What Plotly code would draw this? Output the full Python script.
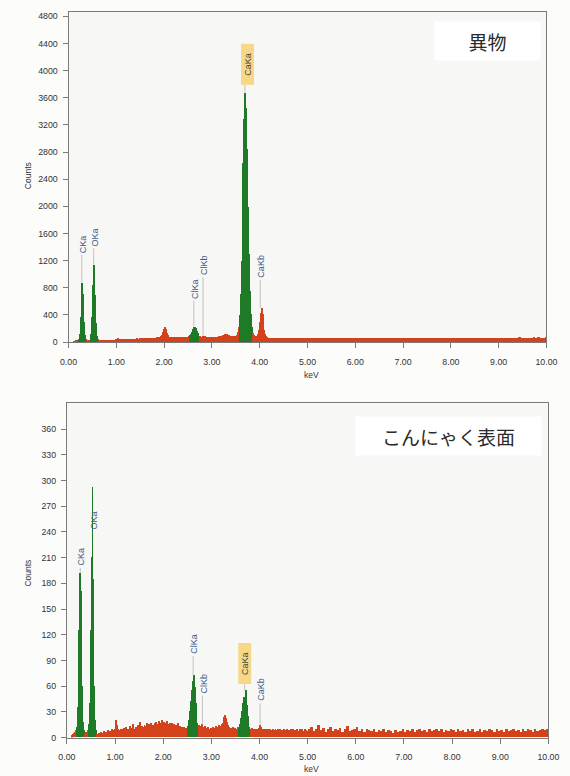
import plotly.graph_objects as go

# ---------------------------------------------------------------
# Energy channels: 20 eV bins from 0 to 5 keV, 50 eV bins to 10 keV
# ---------------------------------------------------------------
fine_centers = [round(0.01 + 0.02 * i, 3) for i in range(250)]
coarse_centers = [round(5.025 + 0.05 * i, 3) for i in range(100)]
energy_kev = fine_centers + coarse_centers
bin_width_kev = [0.02] * 250 + [0.05] * 100

# ---------------------------------------------------------------
# Spectrum 1: foreign matter (異物), counts per channel
# ---------------------------------------------------------------
foreign_low = [
    0, 0, 0, 0, 0, 15, 25, 30, 34, 40,
    50, 120, 380, 880, 720, 300, 110, 50, 36, 30,
    30, 34, 48, 120, 380, 850, 1140, 700, 280, 100,
    50, 36, 31, 30, 32, 30, 33, 35, 32, 34,
    36, 35, 38, 36, 40, 38, 37, 40, 42, 45,
    55, 62, 54, 45, 42, 44, 46, 45, 48, 47,
    50, 52, 49, 55, 53, 58, 54, 56, 52, 55,
    57, 60, 58, 56, 60, 62, 59, 61, 63, 60,
    62, 64, 66, 63, 65, 68, 66, 70, 68, 72,
    70, 72, 74, 71, 76, 75, 90, 115, 155, 205,
    225, 195, 145, 105, 85, 78, 75, 72, 74, 76,
    75, 78, 74, 77, 80, 76, 78, 82, 79, 80,
    78, 80, 82, 80, 84, 90, 105, 130, 160, 195,
    225, 235, 215, 175, 135, 110, 95, 88, 85, 86,
    90, 92, 88, 84, 82, 80, 82, 79, 80, 82,
    80, 82, 85, 83, 86, 84, 88, 90, 92, 95,
    98, 105, 112, 118, 124, 120, 114, 105, 98, 92,
    90, 92, 94, 96, 100, 115, 150, 230, 400, 720,
    1200, 1900, 2650, 3300, 3680, 3450, 2850, 2000, 1300, 760,
    420, 230, 140, 108, 95, 92, 100, 130, 190, 300,
    440, 505, 420, 290, 180, 120, 90, 78, 72, 70,
    68, 70, 66, 69, 67, 65, 68, 66, 64, 67,
    65, 63, 66, 64, 62, 65, 63, 61, 64, 62,
    63, 61, 64, 62, 60, 63, 61, 62, 60, 63,
    61, 62, 60, 63, 61, 59, 62, 60, 61, 62,
]
foreign_high = [
    61, 63, 60, 62, 64, 61, 63, 62, 65, 63,
    62, 64, 66, 63, 61, 64, 65, 63, 66, 64,
    63, 65, 62, 66, 64, 67, 65, 63, 66, 64,
    65, 67, 64, 66, 68, 65, 64, 67, 66, 68,
    66, 64, 67, 69, 66, 68, 65, 67, 69, 66,
    68, 66, 69, 67, 65, 68, 70, 67, 69, 68,
    67, 70, 68, 66, 69, 71, 68, 70, 67, 69,
    70, 68, 71, 69, 72, 70, 68, 71, 69, 72,
    71, 69, 72, 70, 73, 71, 69, 72, 74, 71,
    72, 70, 73, 71, 74, 72, 75, 73, 71, 74,
]

# ---------------------------------------------------------------
# Spectrum 2: konjac surface (こんにゃく表面), counts per channel
# ---------------------------------------------------------------
konjac_low = [
    0, 0, 0, 0, 0, 2, 4, 5, 6, 8,
    12, 35, 125, 192, 170, 60, 18, 8, 5, 6,
    5, 8, 15, 40, 125, 210, 292, 185, 60, 20,
    8, 4, 3, 5, 4, 6, 3, 5, 7, 4,
    6, 5, 8, 5, 7, 6, 9, 5, 8, 10,
    20, 14, 9, 6, 8, 7, 10, 6, 9, 11,
    8, 12, 7, 10, 9, 13, 8, 11, 15, 9,
    10, 12, 9, 14, 11, 18, 10, 13, 9, 12,
    14, 10, 13, 16, 11, 15, 12, 17, 13, 14,
    12, 16, 18, 13, 15, 19, 14, 17, 20, 15,
    18, 14, 16, 19, 13, 15, 17, 12, 14, 16,
    13, 15, 11, 14, 12, 16, 10, 13, 11, 12,
    10, 12, 9, 11, 10, 13, 20, 30, 42, 55,
    65, 72, 58, 40, 26, 17, 12, 14, 11, 13,
    15, 12, 10, 13, 9, 11, 12, 10, 8, 11,
    10, 12, 9, 11, 13, 10, 12, 14, 11, 13,
    15, 17, 20, 24, 26, 22, 18, 14, 12, 10,
    11, 9, 12, 10, 11, 9, 10, 12, 11, 15,
    22, 30, 40, 47, 42, 55, 38, 25, 17, 12,
    10, 9, 11, 8, 10, 9, 7, 10, 8, 11,
    14, 12, 9, 8, 10, 7, 9, 8, 10, 7,
    9, 8, 7, 10, 8, 6, 9, 7, 8, 10,
    7, 9, 6, 8, 7, 10, 8, 6, 9, 7,
    8, 6, 9, 7, 10, 6, 8, 7, 9, 6,
    7, 9, 6, 8, 10, 7, 6, 9, 8, 7,
]
konjac_high = [
    9, 12, 7, 10, 14, 8, 11, 6, 9, 12,
    7, 10, 8, 11, 6, 9, 13, 7, 8, 10,
    12, 7, 9, 6, 10, 8, 7, 9, 6, 8,
    7, 9, 6, 8, 7, 5, 8, 6, 7, 9,
    6, 8, 7, 9, 6, 8, 10, 7, 8, 6,
    9, 7, 8, 10, 7, 9, 6, 8, 7, 9,
    8, 6, 9, 7, 8, 6, 10, 7, 9, 6,
    7, 9, 6, 8, 7, 9, 8, 6, 9, 7,
    8, 6, 9, 7, 8, 10, 7, 8, 6, 9,
    7, 9, 8, 6, 9, 7, 8, 10, 8, 9,
]

foreign_counts = foreign_low + foreign_high
konjac_counts = konjac_low + konjac_high

# Identified X-ray lines (keV)
line_names = ["CKa", "OKa", "ClKa", "ClKb", "CaKa", "CaKb"]
line_energy = [0.277, 0.525, 2.622, 2.815, 3.691, 4.012]

# Integration windows of the identified peaks (filled green)
foreign_windows = [(0.20, 0.36), (0.44, 0.62), (2.52, 2.74), (3.56, 3.84)]
konjac_windows = [(0.20, 0.36), (0.44, 0.62), (2.50, 2.74), (3.56, 3.82)]

# Y ticks
foreign_yticks = list(range(0, 4801, 400))
konjac_yticks = list(range(0, 361, 30))
x_ticks = list(range(0, 11))

# ---------------------------------------------------------------
# Styling / layout
# ---------------------------------------------------------------
RED = "#d4421c"
GREEN = "#1f7a28"
LABEL_BLUE = "#3f5b8c"
FONT = "Liberation Sans, Arial, sans-serif"
CJK = "Noto Sans CJK JP, sans-serif"
W, H = 570, 776

panels = [
    dict(counts=foreign_counts, windows=foreign_windows, ymax=4870,
         yticks=foreign_yticks, xdom=(61.7, 557.0), ydom=(344.3, 11.7),
         label_bottom=[1284, 1382, 610, 952, 3790, 917],
         label_xshift=[1.5, 1.5, 0.5, 1.5, 2.5, 1.0],
         title="異物", title_box=(443, 548, 22, 60),
         counts_pos=(20, 177), kev_pos=(314, 377)),
    dict(counts=konjac_counts, windows=konjac_windows, ymax=390,
         yticks=konjac_yticks, xdom=(60.0, 559.0), ydom=(742.3, 406.0),
         label_bottom=[198, 240, 95, 49, 62, 40],
         label_xshift=[0.5, 1.5, 0.5, 1.5, 0.5, 1.0],
         title="こんにゃく表面", title_box=(363, 548, 420, 458),
         counts_pos=(20, 577), kev_pos=(314, 774)),
]

fig = go.Figure()
layout = dict(
    width=W, height=H, margin=dict(l=0, r=0, t=0, b=0),
    paper_bgcolor="#fcfcfb", plot_bgcolor="#f7f7f5",
    showlegend=False, bargap=0,
)
annotations = []
shapes = []


def in_window(e, windows):
    return any(lo <= e <= hi for lo, hi in windows)


for k, p in enumerate(panels, start=1):
    xa = "x" if k == 1 else f"x{k}"
    ya = "y" if k == 1 else f"y{k}"
    colors = [GREEN if in_window(e, p["windows"]) else RED for e in energy_kev]
    fig.add_trace(go.Bar(
        x=energy_kev, y=p["counts"], width=bin_width_kev,
        marker=dict(color=colors, line=dict(width=0)),
        xaxis=xa, yaxis=ya, hoverinfo="x+y",
    ))

    x0, x1 = p["xdom"]
    yb, yt = p["ydom"]
    axis_common = dict(
        showline=True, linecolor="#7a7a7a", linewidth=1, mirror=True,
        ticks="outside", ticklen=5, tickcolor="#7a7a7a", showgrid=False,
        zeroline=False, tickfont=dict(family=FONT, size=8.8, color="#333333"),
    )
    layout["xaxis" if k == 1 else f"xaxis{k}"] = dict(
        axis_common, domain=[x0 / W, x1 / W], range=[0, 10],
        tickvals=x_ticks, tickformat=".2f", anchor=ya, ticklabelstandoff=6,
    )
    layout["yaxis" if k == 1 else f"yaxis{k}"] = dict(
        axis_common, domain=[1 - yb / H, 1 - yt / H], range=[0, p["ymax"]],
        tickvals=p["yticks"], anchor=xa, ticklabelstandoff=3,
    )

    # peak labels with leader lines down to the peak tops
    for name, e, lb, dx in zip(line_names, line_energy, p["label_bottom"], p["label_xshift"]):
        near = [c for en, c in zip(energy_kev, p["counts"]) if abs(en - e) <= 0.03]
        top = max(near)
        if lb > top:
            shapes.append(dict(
                type="line", xref=xa, yref=ya, x0=e, x1=e,
                y0=top, y1=lb, line=dict(color="#b4b4b4", width=0.8),
            ))
        ann = dict(
            x=e, y=lb, xref=xa, yref=ya, text=name, textangle=-90,
            showarrow=False, xanchor="center", yanchor="bottom", xshift=dx,
            font=dict(family=FONT, size=9, color=LABEL_BLUE),
        )
        if name == "CaKa":
            ann.update(text="&nbsp;&nbsp;&nbsp;CaKa&nbsp;&nbsp;&nbsp;",
                       bgcolor="#f6d888", borderpad=1,
                       font=dict(family=FONT, size=9, color="#4a4636"))
        annotations.append(ann)

    # sample name box
    bx0, bx1, by0, by1 = p["title_box"]
    annotations.append(dict(
        x=(bx0 + bx1) / 2 / W, y=1 - (by0 + by1) / 2 / H, xref="paper", yref="paper",
        text=p["title"], showarrow=False, xanchor="center", yanchor="middle",
        width=bx1 - bx0 - 4, height=by1 - by0 - 4, borderpad=2, bgcolor="#ffffff",
        font=dict(family=CJK, size=19, color="#2a2a2a"),
    ))

    # axis titles
    cx, cy = p["counts_pos"]
    annotations.append(dict(
        x=cx / W, y=1 - cy / H, xref="paper", yref="paper", text="Counts",
        textangle=-90, showarrow=False, xanchor="center", yanchor="middle",
        font=dict(family=FONT, size=8.5, color="#333333"),
    ))
    kx, ky = p["kev_pos"]
    annotations.append(dict(
        x=kx / W, y=1 - ky / H, xref="paper", yref="paper", text="keV",
        showarrow=False, xanchor="center", yanchor="middle",
        font=dict(family=FONT, size=8.5, color="#333333"),
    ))

layout["annotations"] = annotations
layout["shapes"] = shapes
fig.update_layout(**layout)
fig.write_html("out.html")
